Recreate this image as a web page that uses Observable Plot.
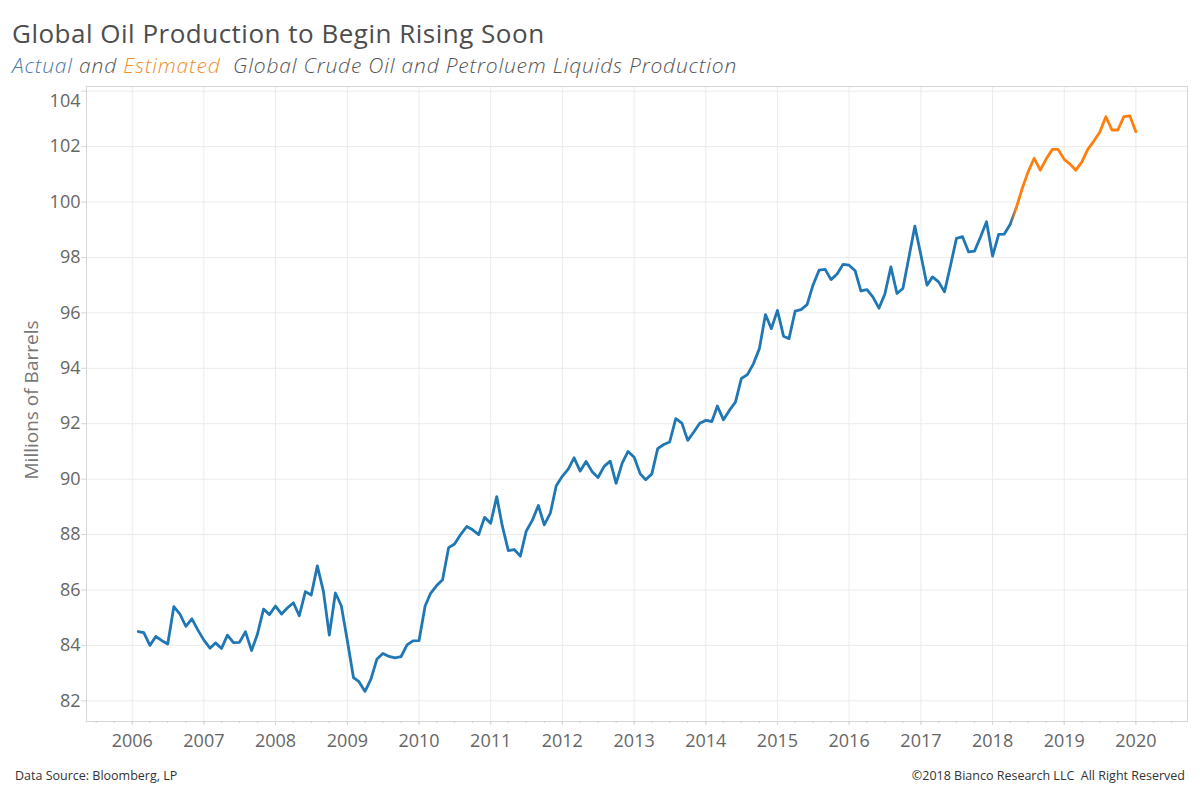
<!DOCTYPE html>
<html>
<head>
<meta charset="utf-8">
<script src="https://cdn.jsdelivr.net/npm/d3@7"></script>
<script src="https://cdn.jsdelivr.net/npm/@observablehq/plot@0.6"></script>
<style>
  html, body { margin: 0; padding: 0; background: #fff; }
  body { width: 1200px; height: 800px; position: relative; font-family: "Open Sans", sans-serif; }
  #header { position: relative; height: 80px; }
  #title { position: absolute; left: 12px; top: 20px; font-size: 26px; letter-spacing: 0.5px; color: #4d4d4d; white-space: nowrap; line-height: 1; }
  #subtitle { position: absolute; left: 12px; top: 55px; font-size: 21px; letter-spacing: 0.8px; font-style: italic; font-weight: 300; color: #555; white-space: nowrap; line-height: 1; }
  #footer { position: absolute; left: 0; top: 767px; width: 1200px; font-size: 12.5px; color: #333; }
  #footer .l { position: absolute; left: 15px; }
  #footer .r { position: absolute; right: 15px; }
  svg { display: block; }
</style>
</head>
<body>
<div id="header">
  <div id="title">Global Oil Production to Begin Rising Soon</div>
  <div id="subtitle"><span style="color:#4e79a7">Actual</span> and <span style="color:#f28e2b">Estimated</span>&nbsp; Global Crude Oil and Petroluem Liquids Production</div>
</div>
<div id="chart"></div>
<div id="footer"><span class="l">Data Source: Bloomberg, LP</span><span class="r">©2018 Bianco Research LLC&nbsp; All Right Reserved</span></div>
<script>
// Monthly values (millions of barrels / day), first month Feb 2006
const actualStart = "2006-02-01";
const actual2006 = [84.50, 84.46, 84.00, 84.32, 84.17, 84.05, 85.40, 85.13, 84.69, 84.96, 84.56];
const actual2007 = [84.19, 83.90, 84.09, 83.89, 84.37, 84.10, 84.11, 84.49, 83.81, 84.41, 85.31, 85.11];
const actual2008 = [85.42, 85.13, 85.35, 85.54, 85.07, 85.94, 85.82, 86.87, 85.95, 84.37, 85.89, 85.43];
const actual2009 = [84.17, 82.84, 82.69, 82.34, 82.78, 83.51, 83.71, 83.60, 83.55, 83.59, 84.02, 84.16];
const actual2010 = [84.17, 85.42, 85.88, 86.16, 86.37, 87.53, 87.66, 88.00, 88.29, 88.17, 88.00, 88.62];
const actual2011 = [88.41, 89.37, 88.32, 87.42, 87.46, 87.22, 88.12, 88.51, 89.05, 88.35, 88.77, 89.76];
const actual2012 = [90.10, 90.37, 90.77, 90.29, 90.64, 90.27, 90.06, 90.46, 90.65, 89.85, 90.58, 91.00];
const actual2013 = [90.79, 90.19, 89.98, 90.19, 91.10, 91.25, 91.34, 92.18, 92.02, 91.40, 91.70, 92.02];
const actual2014 = [92.12, 92.08, 92.64, 92.14, 92.48, 92.78, 93.63, 93.77, 94.17, 94.71, 95.94, 95.43];
const actual2015 = [96.09, 95.16, 95.07, 96.06, 96.12, 96.30, 97.00, 97.54, 97.57, 97.20, 97.40, 97.75];
const actual2016 = [97.72, 97.52, 96.79, 96.84, 96.58, 96.17, 96.67, 97.66, 96.70, 96.88, 98.02, 99.13];
const actual2017 = [98.08, 97.00, 97.30, 97.12, 96.76, 97.72, 98.69, 98.75, 98.20, 98.23, 98.75, 99.29];
const actual2018 = [98.05, 98.83, 98.84, 99.20];
// Estimated, first month May 2018
const estimatedStart = "2018-05-01";
const estimatedValues = [99.78, 100.49, 101.09, 101.58, 101.15, 101.55, 101.90, 101.90,
  101.54, 101.36, 101.15, 101.45, 101.90, 102.20, 102.52, 103.08, 102.60, 102.60, 103.08, 103.11, 102.54];

const yTicks = [82, 84, 86, 88, 90, 92, 94, 96, 98, 100, 102, 104];
const yearTicks = [2006, 2007, 2008, 2009, 2010, 2011, 2012, 2013, 2014, 2015, 2016, 2017, 2018, 2019, 2020];

const actualValues = [].concat(actual2006, actual2007, actual2008, actual2009, actual2010, actual2011,
  actual2012, actual2013, actual2014, actual2015, actual2016, actual2017, actual2018);

function monthly(start, values) {
  const s = new Date(start);
  return values.map((v, i) => ({date: d3.utcMonth.offset(s, i), value: v}));
}
const actual = monthly(actualStart, actualValues);
const estimated = monthly(estimatedStart, estimatedValues);
const bridge = [actual[actual.length - 1], estimated[0]];

const xDomain = [new Date("2005-05-13"), new Date("2020-09-20")];
const yearDates = yearTicks.map(y => new Date(Date.UTC(y, 0, 1)));
const quarterDates = d3.utcMonth.every(3).range(xDomain[0], xDomain[1]);

const font = "Open Sans, sans-serif";
const tickColor = "#666";

const chart = Plot.plot({
  width: 1200,
  height: 685,
  marginLeft: 86,
  marginRight: 13,
  marginTop: 6,
  marginBottom: 44,
  style: {fontFamily: font, background: "#fff", overflow: "visible"},
  x: {type: "utc", domain: xDomain},
  y: {domain: [81.253, 104.17]},
  marks: [
    Plot.gridY(yTicks, {stroke: "#ebebeb", strokeOpacity: 1}),
    Plot.gridX(yearDates, {stroke: "#ebebeb", strokeOpacity: 1}),
    Plot.frame({stroke: "#d6d6d6"}),
    // minor quarterly ticks
    Plot.axisX(quarterDates, {tickSize: 2, text: null, stroke: "#d0d0d0", label: null}),
    // year ticks with labels
    Plot.axisX(yearDates, {tickSize: 4, tickPadding: 9, stroke: "#d6d6d6", fill: tickColor,
      fontSize: 18, tickFormat: d3.utcFormat("%Y"), label: null}),
    Plot.axisY(yTicks, {tickSize: 5, text: null, stroke: "#d6d6d6", label: null}),
    Plot.axisY(yTicks.slice(0, -1), {tickSize: 0, tickPadding: 6, fill: tickColor, fontSize: 18, label: null}),
    Plot.axisY(yTicks.slice(-1), {tickSize: 0, tickPadding: 6, dy: 10, fill: tickColor, fontSize: 18, label: null}),
    Plot.text(["Millions of Barrels"], {frameAnchor: "left", textAnchor: "middle", rotate: -90, dx: -55, dy: -4,
      fontSize: 19, fill: "#777", text: d => d}),
    Plot.line(actual, {x: "date", y: "value", stroke: "#1f77b4", strokeWidth: 2.8, strokeLinejoin: "round"}),
    Plot.line(bridge, {x: "date", y: "value", stroke: "url(#actEst)", strokeWidth: 2.8}),
    Plot.line(estimated, {x: "date", y: "value", stroke: "#ff7f0e", strokeWidth: 2.8, strokeLinejoin: "round"})
  ]
});

const ns = "http://www.w3.org/2000/svg";
const defs = document.createElementNS(ns, "defs");
defs.innerHTML = '<linearGradient id="actEst" x1="0" y1="0" x2="1" y2="0"><stop offset="0" stop-color="#1f77b4"/><stop offset="1" stop-color="#ff7f0e"/></linearGradient>';
chart.insertBefore(defs, chart.firstChild);
document.getElementById("chart").appendChild(chart);
</script>
</body>
</html>
